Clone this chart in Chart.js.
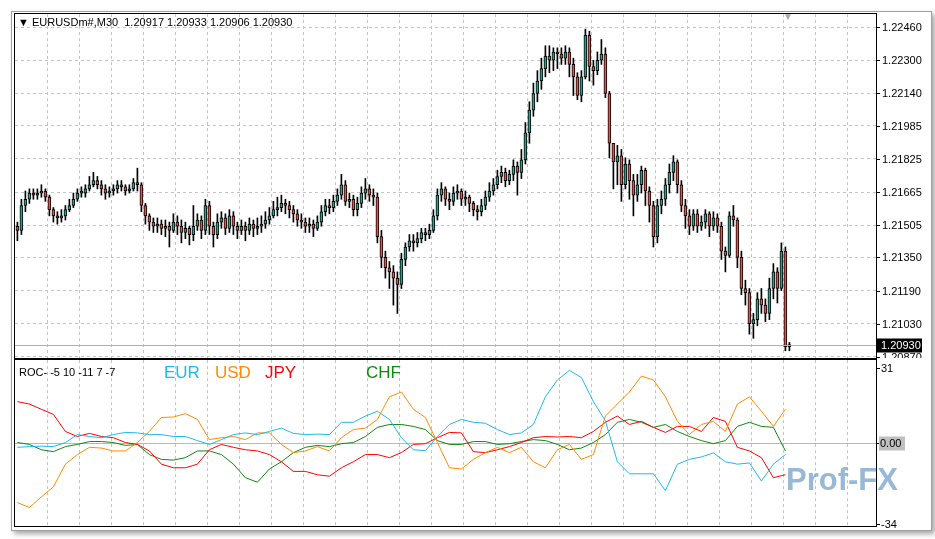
<!DOCTYPE html>
<html><head><meta charset="utf-8">
<script src="https://cdn.jsdelivr.net/npm/chart.js@4/dist/chart.umd.min.js"></script>
<style>
body{margin:0;background:#fff;width:935px;height:539px;overflow:hidden;font-family:"Liberation Sans",Arial,sans-serif}
#win{position:absolute;left:11px;top:11px;width:919px;height:518px;border:1px solid #a0a0a0;box-shadow:3px 3px 5px rgba(0,0,0,.35);background:#fff}
.pan{position:absolute;border:1px solid #000;box-sizing:border-box}
canvas{position:absolute}
.t{position:absolute;white-space:nowrap}
</style></head><body>
<div id="win"></div>
<div class="pan" style="left:14px;top:13px;width:863px;height:346px"></div>
<div class="pan" style="left:14px;top:359px;width:863px;height:168px"></div>
<canvas id="c1" width="920" height="344" style="left:15px;top:14px"></canvas>
<canvas id="c2" width="920" height="172" style="left:15px;top:360px"></canvas>
<div class="t" style="left:18px;top:16px;font-size:11px;color:#000">&#9660; EURUSDm#,M30&nbsp; 1.20917 1.20933 1.20906 1.20930</div>
<div class="t" style="left:783px;top:11px;font-size:10px;color:#aaa">&#9660;</div>
<div class="t" style="left:19px;top:366px;font-size:11px;color:#000">ROC- -5 10 -11 7 -7</div>
<div class="t" style="left:164px;top:363px;font-size:17px;color:#1eb8f0">EUR</div>
<div class="t" style="left:215px;top:363px;font-size:17px;color:#ff8c00">USD</div>
<div class="t" style="left:265px;top:363px;font-size:17px;color:#ff0000">JPY</div>
<div class="t" style="left:366px;top:363px;font-size:17px;color:#118811">CHF</div>
<div class="t" style="left:786px;top:462px;font-size:31px;font-weight:bold;color:#7ea8cc;opacity:.8">Prof-FX</div>
<script>
const firstOpen = 1.2150;
const closes = [1.2148,1.2160,1.2163,1.2166,1.2165,1.2166,1.2167,1.2164,1.2158,1.2155,
1.2154,1.2155,1.2158,1.2160,1.2163,1.2166,1.2166,1.2168,1.2170,1.2172,
1.2170,1.2168,1.2166,1.2167,1.2168,1.2170,1.2169,1.2167,1.2168,1.2171,
1.2170,1.2160,1.2155,1.2152,1.2150,1.2151,1.2149,1.2150,1.2148,1.2152,
1.2150,1.2147,1.2149,1.2146,1.2150,1.2153,1.2148,1.2160,1.2150,1.2146,
1.2152,1.2154,1.2149,1.2155,1.2150,1.2148,1.2150,1.2148,1.2151,1.2149,
1.2150,1.2151,1.2153,1.2155,1.2158,1.2159,1.2161,1.2160,1.2158,1.2156,
1.2153,1.2152,1.2150,1.2151,1.2149,1.2152,1.2157,1.2160,1.2159,1.2162,
1.2165,1.2170,1.2162,1.2163,1.2158,1.2161,1.2166,1.2168,1.2165,1.2164,
1.2145,1.2135,1.2130,1.2128,1.2125,1.2122,1.2134,1.2140,1.2143,1.2142,
1.2144,1.2147,1.2146,1.2148,1.2155,1.2165,1.2168,1.2163,1.2162,1.2166,
1.2167,1.2163,1.2164,1.2161,1.2158,1.2157,1.2160,1.2164,1.2167,1.2170,
1.2174,1.2176,1.2172,1.2175,1.2179,1.2176,1.2182,1.2195,1.2206,1.2214,
1.2220,1.2226,1.2232,1.2230,1.2234,1.2233,1.2231,1.2234,1.2228,1.2222,
1.2213,1.2222,1.2242,1.2227,1.2225,1.2230,1.2233,1.2214,1.2190,1.2181,
1.2184,1.2170,1.2180,1.2172,1.2165,1.2170,1.2177,1.2167,1.2160,1.2145,
1.2160,1.2163,1.2170,1.2176,1.2181,1.2170,1.2160,1.2155,1.2150,1.2156,
1.2150,1.2152,1.2156,1.2150,1.2154,1.2150,1.2138,1.2136,1.2155,1.2153,
1.2135,1.2120,1.2118,1.2103,1.2105,1.2115,1.2112,1.2108,1.2120,1.2128,
1.2120,1.2138,1.2092,1.2093];
const highs = [1.2152,1.2163,1.2167,1.2168,1.2168,1.2168,1.2170,1.2168,1.2165,1.2159,
1.2157,1.2158,1.2160,1.2163,1.2166,1.2168,1.2169,1.2170,1.2174,1.2176,
1.2174,1.2172,1.2170,1.2169,1.2170,1.2172,1.2172,1.2170,1.2170,1.2173,
1.2178,1.2171,1.2161,1.2156,1.2154,1.2154,1.2153,1.2153,1.2152,1.2156,
1.2155,1.2153,1.2152,1.2150,1.2160,1.2156,1.2155,1.2163,1.2162,1.2152,
1.2156,1.2157,1.2156,1.2158,1.2157,1.2152,1.2153,1.2152,1.2154,1.2153,
1.2154,1.2155,1.2157,1.2159,1.2162,1.2164,1.2165,1.2163,1.2162,1.2160,
1.2158,1.2156,1.2154,1.2154,1.2153,1.2155,1.2160,1.2163,1.2163,1.2165,
1.2168,1.2175,1.2172,1.2166,1.2165,1.2164,1.2169,1.2173,1.2170,1.2168,
1.2166,1.2148,1.2138,1.2133,1.2131,1.2128,1.2137,1.2142,1.2146,1.2146,
1.2147,1.2149,1.2149,1.2151,1.2158,1.2168,1.2171,1.2169,1.2166,1.2169,
1.2170,1.2168,1.2167,1.2165,1.2162,1.2160,1.2163,1.2167,1.2171,1.2173,
1.2177,1.2179,1.2178,1.2177,1.2182,1.2181,1.2187,1.2200,1.2210,1.2219,
1.2225,1.2231,1.2237,1.2237,1.2236,1.2236,1.2236,1.2237,1.2236,1.2231,
1.2224,1.2225,1.2245,1.2244,1.2230,1.2234,1.2240,1.2236,1.2215,1.2188,
1.2189,1.2187,1.2183,1.2182,1.2175,1.2175,1.2179,1.2178,1.2169,1.2162,
1.2163,1.2167,1.2173,1.2180,1.2184,1.2182,1.2172,1.2163,1.2158,1.2158,
1.2158,1.2155,1.2158,1.2157,1.2157,1.2156,1.2152,1.2140,1.2157,1.2160,
1.2154,1.2138,1.2124,1.2120,1.2108,1.2118,1.2120,1.2115,1.2125,1.2132,
1.2130,1.2142,1.2140,1.2094];
const lows = [1.2143,1.2146,1.2157,1.2161,1.2163,1.2163,1.2164,1.2162,1.2155,1.2152,
1.2151,1.2152,1.2153,1.2157,1.2159,1.2162,1.2164,1.2164,1.2167,1.2169,
1.2168,1.2165,1.2163,1.2164,1.2165,1.2166,1.2167,1.2165,1.2166,1.2167,
1.2167,1.2157,1.2151,1.2148,1.2147,1.2147,1.2146,1.2145,1.2140,1.2147,
1.2146,1.2142,1.2144,1.2141,1.2143,1.2148,1.2144,1.2146,1.2146,1.2140,
1.2144,1.2149,1.2146,1.2147,1.2146,1.2144,1.2146,1.2143,1.2146,1.2145,
1.2146,1.2147,1.2149,1.2151,1.2154,1.2155,1.2157,1.2156,1.2154,1.2152,
1.2150,1.2149,1.2147,1.2147,1.2145,1.2148,1.2150,1.2155,1.2156,1.2157,
1.2160,1.2163,1.2160,1.2159,1.2155,1.2155,1.2159,1.2163,1.2162,1.2160,
1.2142,1.2130,1.2125,1.2120,1.2112,1.2108,1.2120,1.2131,1.2138,1.2138,
1.2140,1.2142,1.2143,1.2144,1.2147,1.2153,1.2162,1.2160,1.2158,1.2160,
1.2163,1.2160,1.2160,1.2157,1.2155,1.2153,1.2155,1.2158,1.2162,1.2165,
1.2168,1.2171,1.2169,1.2170,1.2172,1.2165,1.2173,1.2180,1.2190,1.2203,
1.2210,1.2216,1.2222,1.2224,1.2225,1.2226,1.2228,1.2228,1.2222,1.2213,
1.2211,1.2210,1.2221,1.2220,1.2218,1.2223,1.2228,1.2212,1.2183,1.2168,
1.2170,1.2162,1.2168,1.2163,1.2155,1.2162,1.2166,1.2160,1.2152,1.2140,
1.2142,1.2156,1.2160,1.2166,1.2172,1.2166,1.2157,1.2149,1.2146,1.2148,
1.2147,1.2148,1.2149,1.2145,1.2148,1.2147,1.2134,1.2128,1.2135,1.2150,
1.2130,1.2117,1.2112,1.2098,1.2096,1.2102,1.2108,1.2104,1.2105,1.2115,
1.2113,1.2119,1.2090,1.2090];
const priceTicks = [1.20870,1.21030,1.21190,1.21350,1.21505,1.21665,1.21825,1.21985,1.22140,1.22300,1.22460];
const lastPrice = 1.20930;

const rocIdx = [0,3,6,9,12,15,18,21,24,27,30,33,36,39,42,45,48,51,54,57,60,63,66,69,72,75,78,81,84,87,90,93,96,99,102,105,108,111,114,117,120,123,126,129,132,135,138,141,144,147,150,153,156,159,162,165,168,171,174,177,180,183,186,189,192];
const eur = [-2,-1.7,-1.5,-1.7,0,3.3,2.5,2,3.3,4.2,4,3.3,3.3,2.5,2.5,0.8,-0.8,1.2,3.3,4,3.3,4.6,6,3.8,3.3,3.5,3.3,8.4,8.4,11,13,9.6,2,-3,-3.4,2.5,7.5,9.6,8.4,8,5.4,3.3,4,7.5,19,26,30,27,17,9,-8,-13,-13,-13,-20,-9,-7,-6,-4.3,-8,-9,-8.5,-16,-9,-5];
const usd = [-25,-27,-22.6,-18.4,-9,-5,-2,-2.3,-3.5,-3.5,0,4.6,10.4,10.6,12,9.6,1.2,2,2.5,1.2,4,4,-0.8,-4.2,-3.5,-1.7,-3.5,2,5.4,6,9.6,19,21,13.8,10.4,0,-10.5,-11,-7,-4.2,-2,-4.2,-2,-8,-10.5,-3,-0.8,-7,-5,11,16,21,27.6,26,19,8.8,3.3,7.5,8.8,4.6,16,19,13,6.7,13.8];
const jpy = [17,16,13.8,11.7,4.6,2.5,3.8,2.5,2,0,-0.8,-3.5,-9,-10.5,-10.5,-9,-3,-0.8,-2,-3,-3.5,-5,-8,-12,-12,-13.4,-14,-10.5,-8,-5,-5,-6.3,-4.2,-0.8,-0.5,2,4.2,4,-3.8,-4.2,-3,-1.7,0,2,2.5,2.3,2.5,2,4.6,8.4,11,7.5,8.8,6.3,4.2,6.7,6.7,4.6,10.4,8.8,-2,-3.5,-6.3,-14.6,-13.4];
const chf = [0,-0.8,-3,-3.8,-1.7,-0.8,0.4,0.4,0,-1.2,-0.8,-5,-7,-7.3,-6.3,-3.5,-3.5,-5,-9,-14.6,-16.5,-11,-8,-4.2,-2,-1.2,-1.7,-0.5,0,2.5,6.3,7.5,7.5,6.7,5.4,0.8,-0.8,-0.8,0.4,0.4,-0.8,-0.5,0.4,1.2,0.8,-0.8,-3,-2.3,0,3.3,8.4,9.6,8.4,6.3,7.5,4.6,2.5,0.8,-0.5,0.8,6.7,8.4,6.7,6.3,-3.5];
const rocTicks = [31,0,-34];

const opens = closes.map((c,i)=> i===0 ? firstOpen : closes[i-1]);
const UP='#26a38f', DN='#ea5149';
const XMIN=-0.6, XMAX=214.65;
const gridX = {type:'linear',min:XMIN,max:XMAX,offset:false,display:true,
  ticks:{display:false},border:{display:false,dash:[3,3]},
  grid:{color:'#c4c4c4',drawTicks:false,lineWidth:1,offset:false},
  afterBuildTicks(s){const t=[];for(let v=7.4;v<XMAX;v+=8)t.push({value:v});s.ticks=t;}};
const font='11px "Liberation Sans", Arial, sans-serif';

const pricePlugin={id:'pp',afterDraw(ch){
  const y=ch.scales.y,a=ch.chartArea,c=ch.ctx;c.save();
  c.font=font;c.textBaseline='middle';c.fillStyle='#000';c.strokeStyle='#000';
  priceTicks.forEach(v=>{const p=Math.round(y.getPixelForValue(v))+0.5;
    c.beginPath();c.moveTo(a.right,p);c.lineTo(a.right+4,p);c.stroke();
    c.fillText(v.toFixed(5),a.right+6,p);});
  const p=Math.round(y.getPixelForValue(lastPrice))+0.5;
  c.strokeStyle='#b0b0b0';c.beginPath();c.moveTo(a.left,p);c.lineTo(a.right,p);c.stroke();
  c.fillStyle='#000';c.fillRect(a.right+1,p-7,45,14);
  c.fillStyle='#fff';c.fillText(lastPrice.toFixed(5),a.right+5,p);
  c.restore();}};

new Chart(document.getElementById('c1'),{
  data:{datasets:[
    {type:'bar',order:2,data:closes.map((c,i)=>({x:i,y:[lows[i],highs[i]]})),backgroundColor:'#000',barThickness:1,grouped:false,minBarLength:1},
    {type:'bar',order:1,data:closes.map((c,i)=>({x:i,y:[opens[i],c]})),
      backgroundColor:closes.map((c,i)=>c>=opens[i]?UP:DN),borderColor:'#000',borderWidth:1,borderSkipped:false,
      barThickness:3,grouped:false,minBarLength:2}
  ]},
  options:{responsive:false,devicePixelRatio:1,animation:false,layout:{padding:0},
    plugins:{legend:{display:false},tooltip:{enabled:false}},
    scales:{x:gridX,
      y:{position:'right',min:1.20865,max:1.22523,
        ticks:{display:false},border:{display:true,color:'#000',dash:[3,3]},
        grid:{color:'#c4c4c4',drawTicks:false},
        afterBuildTicks(s){s.ticks=priceTicks.map(v=>({value:v}));},
        afterFit(s){s.width=59;}}}},
  plugins:[pricePlugin]});

const rocPlugin={id:'rp',afterDraw(ch){
  const y=ch.scales.y,a=ch.chartArea,c=ch.ctx;c.save();c.font=font;c.textBaseline='middle';
  c.strokeStyle='#000';
  rocTicks.forEach(v=>{const p=Math.round(y.getPixelForValue(v))+0.5;
    c.beginPath();c.moveTo(a.right,p);c.lineTo(a.right+4,p);c.stroke();
    if(v===0){c.fillStyle='#c0c0c0';c.fillRect(a.right+3,p-7,26,14);c.fillStyle='#000';c.fillText('0.00',a.right+4,p);}
    else{c.fillStyle='#000';c.fillText(String(v),a.right+5,p);}});
  c.restore();},
  beforeDatasetsDraw(ch){const y=ch.scales.y,a=ch.chartArea,c=ch.ctx;c.save();
    const z=Math.round(y.getPixelForValue(0))+0.5;c.strokeStyle='#b8b8b8';c.beginPath();c.moveTo(a.left,z);c.lineTo(a.right,z);c.stroke();c.restore();}};
const line=(d,col)=>({type:'line',data:d.map((v,i)=>({x:rocIdx[i],y:v})),borderColor:col,borderWidth:1,pointRadius:0,tension:0});
new Chart(document.getElementById('c2'),{
  data:{datasets:[line(eur,'#1eb8f0'),line(usd,'#ff8c00'),line(jpy,'#ff0000'),line(chf,'#118811')]},
  options:{responsive:false,devicePixelRatio:1,animation:false,layout:{padding:{bottom:6}},
    plugins:{legend:{display:false},tooltip:{enabled:false}},
    scales:{x:gridX,
      y:{position:'right',min:-34.7,max:34.3,ticks:{display:false},grid:{display:false},
        border:{display:true,color:'#000'},afterFit(s){s.width=59;}}}},
  plugins:[rocPlugin]});
</script></body></html>
